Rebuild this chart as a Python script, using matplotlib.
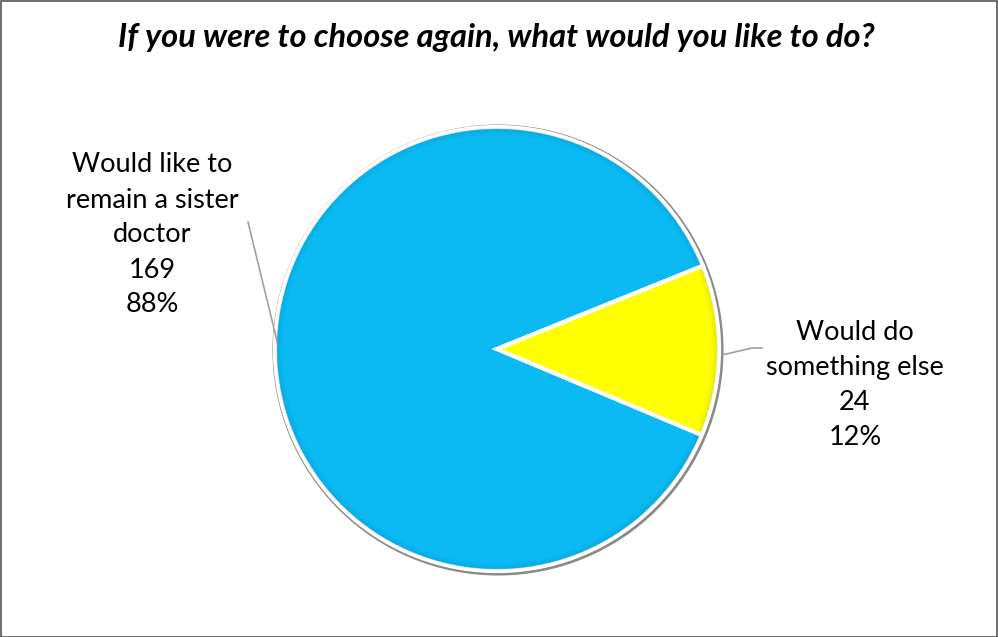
import matplotlib
matplotlib.use("Agg")
import matplotlib.pyplot as plt
from matplotlib.patches import Circle, Rectangle, Wedge

# DATA
labels = ["Would like to\nremain a sister\ndoctor", "Would do\nsomething else"]
counts = [169, 24]
colors = ["#0BBAF2", "#FFFF00"]
rim_colors = ["#0590C4", "#C9C900"]

total = sum(counts)
pcts = [round(c / total * 100) for c in counts]

W, H = 998, 637
fig = plt.figure(figsize=(W / 100, H / 100), dpi=100)
ax = fig.add_axes([0, 0, 1, 1])

# pie centre / radius in pixels (y measured from bottom)
cx, cy, r = 497, H - 349, 222

# soft outer rim / shadow
ax.add_patch(Circle((cx + 1, cy - 1), r + 2, facecolor="none", edgecolor="#8a8a8a", linewidth=2.2, zorder=0))

wedges, _ = ax.pie(counts, colors=colors, startangle=22, counterclock=True,
                   center=(cx, cy), radius=r, frame=True,
                   wedgeprops=dict(edgecolor="white", linewidth=3))

# bevel-ish darker rim inside each slice
for w, rc in zip(wedges, rim_colors):
    for k, a in enumerate([0.35, 0.2, 0.1]):
        ax.add_patch(Wedge((cx, cy), r - 1.5 - k * 2, w.theta1 + 0.6, w.theta2 - 0.6,
                           width=2, facecolor=rc, edgecolor="none", alpha=a, zorder=3))

ax.set_xlim(0, W)
ax.set_ylim(0, H)
ax.set_aspect("equal")
ax.axis("off")

# border
fig.patches.append(Rectangle((0.5 / W, 0.5 / H), 1 - 1.5 / W, 1 - 1.5 / H,
                             transform=fig.transFigure, fill=False,
                             edgecolor="#555555", linewidth=1.2))

ax.text(W / 2 - 3, H - 38, "If you were to choose again, what would you like to do?",
        ha="center", va="center", fontsize=23.5, fontweight="bold", fontstyle="italic",
        family="Lato", color="black")

# data labels
lab_font = dict(ha="center", va="center", fontsize=19.5, family="Lato",
                linespacing=1.5, color="black")
ax.text(152, H - 235, f"{labels[0]}\n{counts[0]}\n{pcts[0]}%", **lab_font)
ax.text(855, H - 385, f"{labels[1]}\n{counts[1]}\n{pcts[1]}%", **lab_font)

# leader lines
ax.plot([248, 278], [H - 222, H - 345], color="#a0a0a0", linewidth=1.2)
ax.plot([722, 752, 762], [H - 355, H - 348, H - 348], color="#a0a0a0", linewidth=1.2)

fig.savefig("out.png", dpi=100)
